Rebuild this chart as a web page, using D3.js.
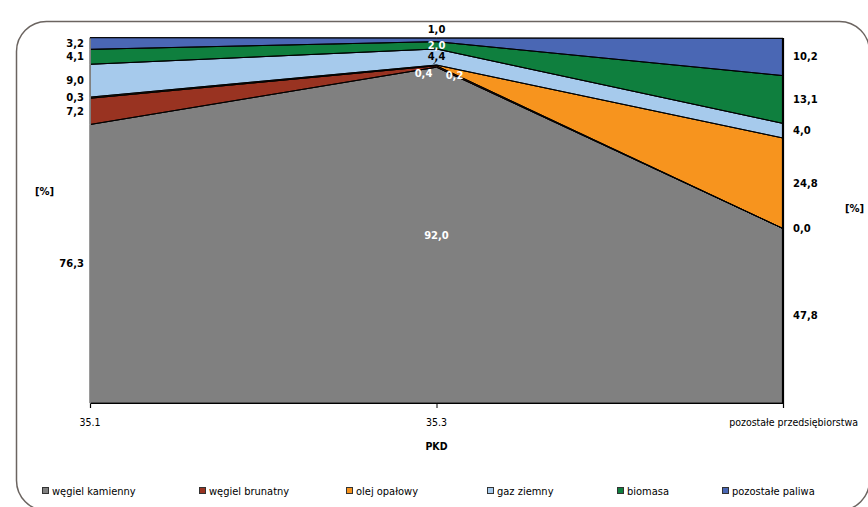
<!DOCTYPE html>
<html><head><meta charset="utf-8">
<script src="https://cdn.jsdelivr.net/npm/d3@7"></script>
<style>
html,body{margin:0;padding:0;background:#fff;}
svg{display:block;}
</style></head>
<body>
<svg id="chart" width="868" height="507"></svg>
<script>
const categories = ["35.1", "35.3", "pozostałe przedsiębiorstwa"];
const seriesNames = ["węgiel kamienny", "węgiel brunatny", "olej opałowy", "gaz ziemny", "biomasa", "pozostałe paliwa"];
const wegielKamienny = [76.3, 92.0, 47.8];
const wegielBrunatny = [7.2, 0.4, 0.0];
const olejOpalowy = [0.3, 0.2, 24.8];
const gazZiemny = [9.0, 4.4, 4.0];
const biomasa = [4.1, 2.0, 13.1];
const pozostalePaliwa = [3.2, 1.0, 10.2];
const seriesValues = [wegielKamienny, wegielBrunatny, olejOpalowy, gazZiemny, biomasa, pozostalePaliwa];
const colors = ["#808080", "#993321", "#F7941E", "#A6CAEC", "#0F7F3E", "#4A67B4"];
const yTicks = [0, 100];

const rows = categories.map((c, i) => {
  const r = {cat: c};
  seriesNames.forEach((s, j) => r[s] = seriesValues[j][i]);
  return r;
});
const stack = d3.stack().keys(seriesNames);
const stacked = stack(rows);

const svg = d3.select("#chart");
const L = 90, R = 783, T = 38, B = 403;
const x = d3.scalePoint().domain(categories).range([L, R]);
const y = d3.scaleLinear().domain([0, 100]).range([B, T]);

// frame
svg.append("rect").attr("x", 16.5).attr("y", 21.5).attr("width", 853).attr("height", 489)
  .attr("rx", 30).attr("ry", 30).attr("fill", "#fff").attr("stroke", "#6b6460").attr("stroke-width", 1.5);

const area = d3.area().x(d => x(d.data.cat)).y0(d => y(d[0])).y1(d => y(d[1]));
svg.append("g").selectAll("path").data(stacked).join("path")
  .attr("d", area).attr("fill", (d, i) => colors[i])
  .attr("stroke", "#000").attr("stroke-width", 0.8);

// boundary lines
const line = d3.line().x(d => x(d.data.cat)).y(d => y(d[1]));
svg.append("g").selectAll("path").data(stacked).join("path")
  .attr("d", line).attr("fill", "none").attr("stroke", "#000").attr("stroke-width", 1);

// axes
const xAxis = d3.axisBottom(x).tickSize(5).tickFormat(() => "");
const gx = svg.append("g").attr("transform", `translate(0,${B})`).call(xAxis);
gx.select(".domain").attr("stroke", "#000").attr("stroke-width", 1.2);
gx.selectAll(".tick line").attr("stroke", "#000");
const gy = svg.append("g").attr("transform", `translate(${L},0)`).call(d3.axisLeft(y).tickValues(yTicks).tickSize(0).tickFormat(""));
gy.select(".domain").attr("stroke", "#808080").attr("stroke-width", 1);
svg.append("line").attr("x1", R).attr("x2", R).attr("y1", y(100)).attr("y2", B)
  .attr("stroke", "#000").attr("stroke-width", 2.2);

// category labels
const catFont = "'DejaVu Sans Condensed', 'DejaVu Sans', sans-serif";
svg.append("g").selectAll("text").data(categories).join("text")
  .attr("x", (d, i) => i === categories.length - 1 ? 858 : x(d))
  .attr("y", 426)
  .attr("text-anchor", (d, i) => i === categories.length - 1 ? "end" : "middle")
  .attr("font-family", catFont).attr("font-size", 10.5).attr("fill", "#000")
  .text(d => d);
svg.append("text").attr("x", x(categories[1])).attr("y", 450).attr("text-anchor", "middle")
  .attr("font-family", catFont).attr("font-weight", "bold").attr("font-size", 10.5).text("PKD");
svg.append("text").attr("x", 35).attr("y", 195)
  .attr("font-family", "'DejaVu Sans', sans-serif").attr("font-weight", "bold").attr("font-size", 10).text("[%]");
svg.append("text").attr("x", 845).attr("y", 212)
  .attr("font-family", "'DejaVu Sans', sans-serif").attr("font-weight", "bold").attr("font-size", 10).text("[%]");

// data labels
const fmt = v => d3.format(".1f")(v).replace(".", ",");
const lblFont = "'DejaVu Sans', sans-serif";
const midOffsets = [[0, 0], [-13, 7], [18, 10], [0, 0], [0, 0], [0, -10]];
const midWhite = [true, true, true, false, true, false];
const gl = svg.append("g").attr("font-family", lblFont).attr("font-weight", "bold").attr("font-size", 10);
stacked.forEach((s, j) => {
  s.forEach((d, i) => {
    const cy = y((d[0] + d[1]) / 2);
    let tx, anchor, fill = "#000", dx = 0, dy = 0;
    if (i === 0) { tx = L - 6; anchor = "end"; }
    else if (i === 2) { tx = R + 10; anchor = "start"; }
    else { tx = x(d.data.cat); anchor = "middle"; dx = midOffsets[j][0]; dy = midOffsets[j][1]; fill = midWhite[j] ? "#fff" : "#000"; }
    gl.append("text").attr("x", tx + dx).attr("y", cy + dy).attr("dy", "0.35em")
      .attr("text-anchor", anchor).attr("fill", fill).text(fmt(d[1] - d[0]));
  });
});
// small leader line for the 35.3 gas label
const g35 = stacked[3][1];
svg.append("line").attr("x1", x(categories[1]) - 1).attr("y1", y((g35[0] + g35[1]) / 2) + 5)
  .attr("x2", x(categories[1]) - 3).attr("y2", y(g35[0]) - 1)
  .attr("stroke", "#000").attr("stroke-width", 0.8);

// legend
const legendX = [42, 199, 346, 487, 617, 722];
const lg = svg.append("g").attr("font-family", catFont).attr("font-size", 11);
seriesNames.forEach((s, i) => {
  lg.append("rect").attr("x", legendX[i] + 0.5).attr("y", 487.5).attr("width", 6).attr("height", 6)
    .attr("fill", colors[i]).attr("stroke", "#333").attr("stroke-width", 1);
  lg.append("text").attr("x", legendX[i] + 10).attr("y", 495).text(s);
});
</script>
</body></html>
